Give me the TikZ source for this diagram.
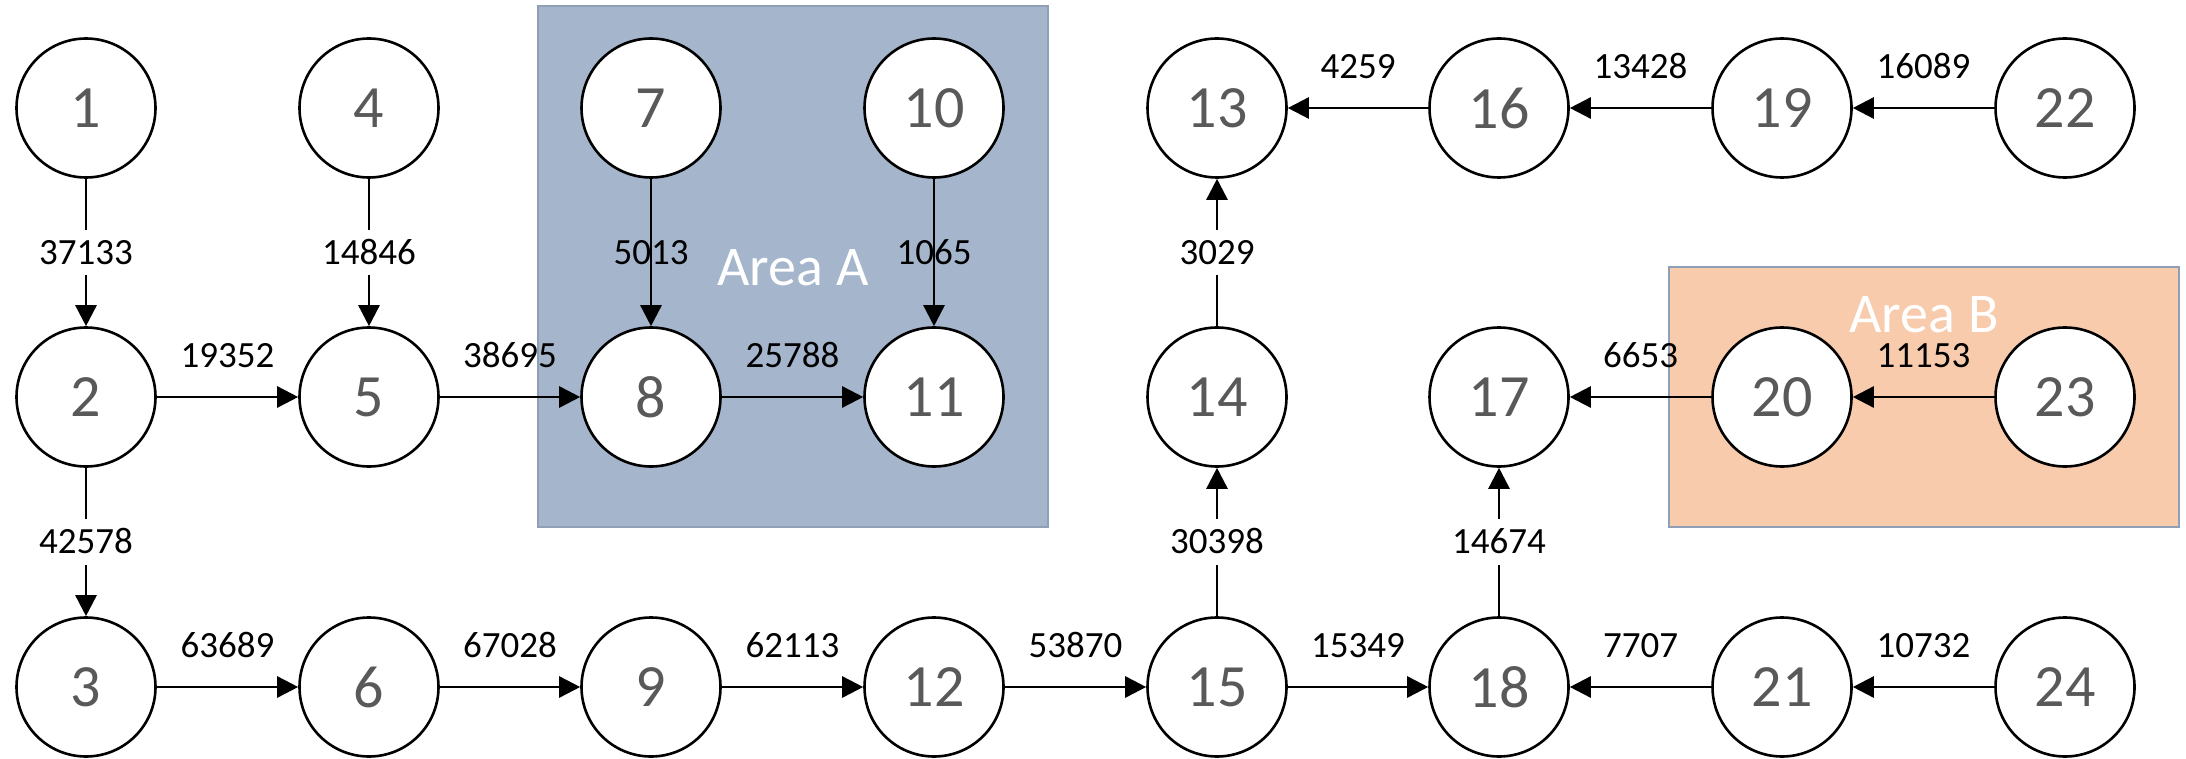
\documentclass[tikz,border=0pt]{standalone}
\usepackage{fontspec}
\setmainfont{Carlito}
\usetikzlibrary{arrows.meta,calc}
\definecolor{areaA}{HTML}{A5B5CC}
\definecolor{areaB}{HTML}{F8CBAD}
\definecolor{areaborder}{HTML}{8E9FB6}
\definecolor{numgray}{HTML}{595959}
\begin{document}
\begin{tikzpicture}[x=1pt,y=-1pt,
  vertex/.style={circle,draw=black,line width=2.6pt,fill=white,minimum size=139pt,inner sep=0pt,text=numgray,font=\fontsize{60}{72}\selectfont},
  flow/.style={line width=2.6pt,-{Triangle[length=21pt,width=21pt]}},
  lbl/.style={font=\fontsize{37}{44}\selectfont,inner sep=0pt,text height=23.5pt,text depth=0pt},
  vlbl/.style={lbl,fill=white,inner xsep=4pt,inner ysep=11pt},
  area/.style={draw=areaborder,line width=2pt},
  arealbl/.style={text=white,font=\fontsize{56}{67}\selectfont,anchor=base,inner sep=0pt}
]
\useasboundingbox (0,0) rectangle (2186,759);
% areas
\draw[area,fill=areaA] (538,6) rectangle (1048,527);
\draw[area,fill=areaB] (1669,267) rectangle (2179,527);
\node[arealbl] (la) at (793,285) {Area A};
\node[arealbl] (lb) at (1924,332) {Area B};
% nodes
\node[vertex] (n1) at (86,108) {1};
\node[vertex] (n2) at (86,397) {2};
\node[vertex] (n3) at (86,687) {3};
\node[vertex] (n4) at (369,108) {4};
\node[vertex] (n5) at (369,397) {5};
\node[vertex] (n6) at (369,687) {6};
\node[vertex] (n7) at (651,108) {7};
\node[vertex] (n8) at (651,397) {8};
\node[vertex] (n9) at (651,687) {9};
\node[vertex] (n10) at (934,108) {10};
\node[vertex] (n11) at (934,397) {11};
\node[vertex] (n12) at (934,687) {12};
\node[vertex] (n13) at (1217,108) {13};
\node[vertex] (n14) at (1217,397) {14};
\node[vertex] (n15) at (1217,687) {15};
\node[vertex] (n16) at (1499,108) {16};
\node[vertex] (n17) at (1499,397) {17};
\node[vertex] (n18) at (1499,687) {18};
\node[vertex] (n19) at (1782,108) {19};
\node[vertex] (n20) at (1782,397) {20};
\node[vertex] (n21) at (1782,687) {21};
\node[vertex] (n22) at (2065,108) {22};
\node[vertex] (n23) at (2065,397) {23};
\node[vertex] (n24) at (2065,687) {24};
% labels under lines (inside Area A)
\node[lbl] (e78) at ($(n7)!0.5!(n8)$) {5013};
\node[lbl] (e1011) at ($(n10)!0.5!(n11)$) {1065};
% edges
\draw[flow] (n1) -- (n2);
\draw[flow] (n4) -- (n5);
\draw[flow] (n7) -- (n8);
\draw[flow] (n10) -- (n11);
\draw[flow] (n2) -- (n5);
\draw[flow] (n5) -- (n8);
\draw[flow] (n8) -- (n11);
\draw[flow] (n2) -- (n3);
\draw[flow] (n3) -- (n6);
\draw[flow] (n6) -- (n9);
\draw[flow] (n9) -- (n12);
\draw[flow] (n12) -- (n15);
\draw[flow] (n15) -- (n18);
\draw[flow] (n15) -- (n14);
\draw[flow] (n14) -- (n13);
\draw[flow] (n18) -- (n17);
\draw[flow] (n16) -- (n13);
\draw[flow] (n19) -- (n16);
\draw[flow] (n22) -- (n19);
\draw[flow] (n20) -- (n17);
\draw[flow] (n23) -- (n20);
\draw[flow] (n21) -- (n18);
\draw[flow] (n24) -- (n21);
% vertical labels that break the line
\node[vlbl] (e12) at ($(n1)!0.5!(n2)$) {37133};
\node[vlbl] (e45) at ($(n4)!0.5!(n5)$) {14846};
\node[vlbl] (e23) at ($(n2)!0.5!(n3)$) {42578};
\node[vlbl] (e1413) at ($(n14)!0.5!(n13)$) {3029};
\node[vlbl] (e1514) at ($(n15)!0.5!(n14)$) {30398};
\node[vlbl] (e1817) at ($(n18)!0.5!(n17)$) {14674};
% horizontal labels above the lines
\node[lbl] (e25) at ($(n2)!0.5!(n5)+(0,-41)$) {19352};
\node[lbl] (e58) at ($(n5)!0.5!(n8)+(0,-41)$) {38695};
\node[lbl] (e811) at ($(n8)!0.5!(n11)+(0,-41)$) {25788};
\node[lbl] (e36) at ($(n3)!0.5!(n6)+(0,-41)$) {63689};
\node[lbl] (e69) at ($(n6)!0.5!(n9)+(0,-41)$) {67028};
\node[lbl] (e912) at ($(n9)!0.5!(n12)+(0,-41)$) {62113};
\node[lbl] (e1215) at ($(n12)!0.5!(n15)+(0,-41)$) {53870};
\node[lbl] (e1518) at ($(n15)!0.5!(n18)+(0,-41)$) {15349};
\node[lbl] (e2118) at ($(n21)!0.5!(n18)+(0,-41)$) {7707};
\node[lbl] (e2421) at ($(n24)!0.5!(n21)+(0,-41)$) {10732};
\node[lbl] (e1613) at ($(n16)!0.5!(n13)+(0,-41)$) {4259};
\node[lbl] (e1916) at ($(n19)!0.5!(n16)+(0,-41)$) {13428};
\node[lbl] (e2219) at ($(n22)!0.5!(n19)+(0,-41)$) {16089};
\node[lbl] (e2017) at ($(n20)!0.5!(n17)+(0,-41)$) {6653};
\node[lbl] (e2320) at ($(n23)!0.5!(n20)+(0,-41)$) {11153};
\end{tikzpicture}
\end{document}
